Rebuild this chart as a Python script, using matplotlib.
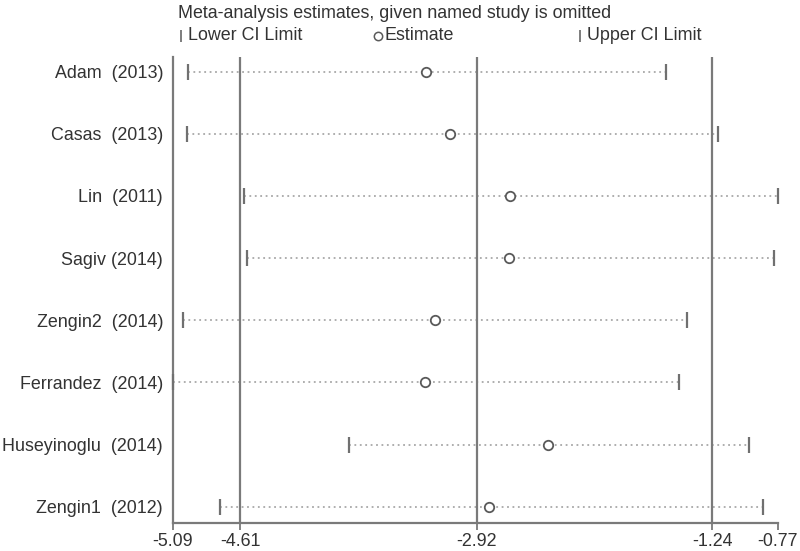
import matplotlib
matplotlib.use("Agg")
from matplotlib import pyplot as plt
from matplotlib.lines import Line2D

# Study omitted in each row, with the pooled estimate and CI without it
studies = [
    "Adam  (2013)",
    "Casas  (2013)",
    "Lin  (2011)",
    "Sagiv (2014)",
    "Zengin2  (2014)",
    "Ferrandez  (2014)",
    "Huseyinoglu  (2014)",
    "Zengin1  (2012)",
]
lower = [-4.98, -4.99, -4.58, -4.56, -5.02, -5.09, -3.83, -4.75]
estimate = [-3.28, -3.11, -2.68, -2.69, -3.22, -3.29, -2.41, -2.83]
upper = [-1.57, -1.20, -0.77, -0.80, -1.42, -1.48, -0.98, -0.88]

# Overall pooled result (lower CI, estimate, upper CI)
overall = [-4.61, -2.92, -1.24]
xticks = [-5.09, -4.61, -2.92, -1.24, -0.77]

plt.rcParams["font.family"] = ["Liberation Sans", "DejaVu Sans"]
TXT = "#333333"
LINE = "#7a7a7a"
FS = 12.9

fig = plt.figure(figsize=(8, 5.51), dpi=100)
ax = fig.add_axes([0.216, 0.051, 0.7565, 0.846])

y = list(range(len(studies)))
for i in y:
    ax.plot([lower[i], upper[i]], [i, i], linestyle=(0, (1, 2)),
            color="#a8a8a8", linewidth=1.3, zorder=1)
ax.plot(lower, y, linestyle="none", marker="|", markersize=11,
        markeredgewidth=1.6, color="#707070", zorder=3, clip_on=False)
ax.plot(upper, y, linestyle="none", marker="|", markersize=11,
        markeredgewidth=1.6, color="#707070", zorder=3, clip_on=False)
ax.plot(estimate, y, linestyle="none", marker="o", markersize=6.8,
        markerfacecolor="white", markeredgecolor="#5a5a5a",
        markeredgewidth=1.3, zorder=4)

for v in overall:
    ax.axvline(v, color=LINE, linewidth=1.6, zorder=2)

ax.set_xlim(xticks[0], xticks[-1])
ax.set_ylim(len(studies) - 1 + 0.26, -0.24)
ax.set_xticks(xticks)
ax.set_xticklabels([f"{t:.2f}" for t in xticks], fontsize=FS, color=TXT)
ax.set_yticks(y)
ax.set_yticklabels(studies, fontsize=FS, color=TXT)
ax.tick_params(axis="y", length=0, pad=7)
ax.tick_params(axis="x", length=5, width=1.3, color=LINE, pad=2)
for s in ["top", "right"]:
    ax.spines[s].set_visible(False)
for s in ["left", "bottom"]:
    ax.spines[s].set_color(LINE)
    ax.spines[s].set_linewidth(1.6)

# Header and legend row
fig.text(178 / 800, 1 - 13 / 551, "Meta-analysis estimates, given named study is omitted",
         fontsize=FS, color=TXT, va="center", ha="left")
ly = 1 - 36 / 551
items = [(181, "|", "Lower CI Limit"), (378, "o", "Estimate"), (580, "|", "Upper CI Limit")]
for px, m, label in items:
    fig.add_artist(Line2D([px / 800], [ly], marker=m, linestyle="none",
                          markersize=6 if m == "o" else 9,
                          markerfacecolor="white", markeredgecolor="#5a5a5a",
                          markeredgewidth=1.1, transform=fig.transFigure))
    fig.text((px + 7) / 800, ly, label, fontsize=FS, color=TXT,
             va="center", ha="left")

fig.savefig("out.png", dpi=100)
